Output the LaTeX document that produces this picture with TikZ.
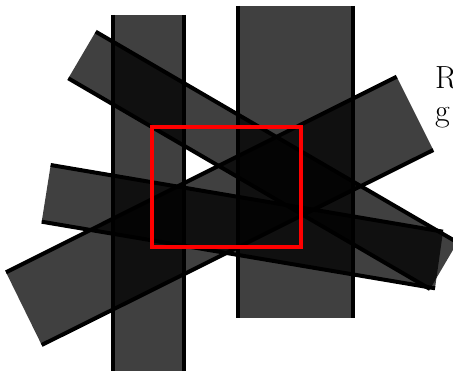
\documentclass[tikz,border=0pt]{standalone}
\tikzset{
  barfill/.style={fill=black, fill opacity=0.75},
  baredge/.style={draw=black, line width=4pt},
  frame/.style={draw=red, line width=4pt},
  lbl/.style={anchor=base west, inner sep=0pt, font=\fontsize{32}{38}\selectfont}
}
\newcommand{\mybar}[4]{%
  \fill[barfill] #1 -- #2 -- #3 -- #4 -- cycle;
  \draw[baredge] #1 -- #4;
  \draw[baredge] #2 -- #3;
}
\begin{document}
\begin{tikzpicture}[x=1pt,y=-1pt]
\useasboundingbox (0,0) rectangle (453,371);
\clip (0,0) rectangle (453,371);
% vertical bars
\mybar{(113.3,15)}{(184,15)}{(184,400)}{(113.3,400)}
\mybar{(238,6)}{(353,6)}{(353,318)}{(238,318)}
% tilted bars
\mybar{(95.7,31.7)}{(68.3,78.3)}{(430,289)}{(457.4,242.4)}
\mybar{(6,272.3)}{(41.7,345)}{(433.3,150)}{(396.7,76.7)}
\mybar{(50.7,165)}{(41.7,221.7)}{(435,288.3)}{(443,231.7)}
% red frame
\draw[frame] (151.7,126.7) rectangle (301,246.7);
% text
\node[lbl] (t1) at (435,89) {R};
\node[lbl] (t2) at (435,122) {g};
\end{tikzpicture}
\end{document}
